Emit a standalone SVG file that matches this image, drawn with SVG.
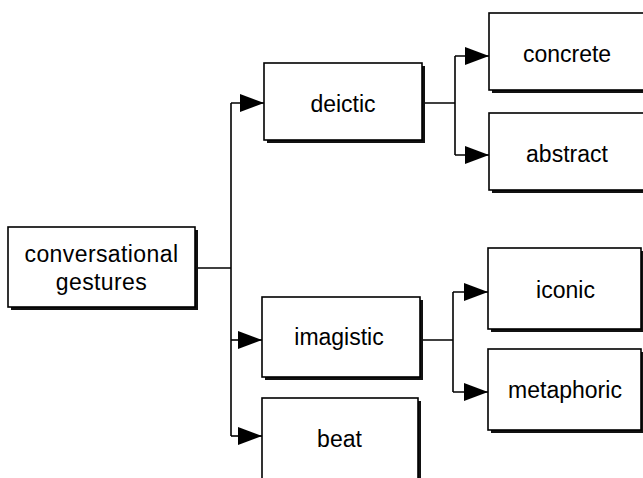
<svg xmlns="http://www.w3.org/2000/svg" width="643" height="478" viewBox="0 0 643 478">
  <style>
    .shadow { fill: #111; }
    .box { fill: #fff; stroke: #000; stroke-width: 1.6; }
    .lbl { font-family: "Liberation Sans", Arial, sans-serif; font-size: 23px; fill: #000; text-anchor: middle; }
    .wire { fill: none; stroke: #000; stroke-width: 1.6; }
  </style>
  <defs>
    <marker id="arrow" viewBox="0 0 24 18" refX="24" refY="9" markerWidth="24" markerHeight="18" markerUnits="userSpaceOnUse" orient="auto">
      <path d="M0,0 L24,9 L0,18 Z" fill="#000"/>
    </marker>
  </defs>
  <rect width="643" height="478" fill="#fff"/>

  <g id="connectors">
    <path class="wire" d="M195,268 H231"/>
    <path class="wire" d="M231,103 V436"/>
    <path class="wire" d="M231,103 H264" marker-end="url(#arrow)"/>
    <path class="wire" d="M231,340 H262" marker-end="url(#arrow)"/>
    <path class="wire" d="M231,436 H262" marker-end="url(#arrow)"/>
    <path class="wire" d="M422,103 H455"/>
    <path class="wire" d="M455,56 V155"/>
    <path class="wire" d="M455,56 H489" marker-end="url(#arrow)"/>
    <path class="wire" d="M455,155 H489" marker-end="url(#arrow)"/>
    <path class="wire" d="M420,340 H453"/>
    <path class="wire" d="M453,292 V392"/>
    <path class="wire" d="M453,292 H488" marker-end="url(#arrow)"/>
    <path class="wire" d="M453,392 H488" marker-end="url(#arrow)"/>
  </g>

  <g id="conversational-gestures">
    <rect class="shadow" x="11" y="230" width="187" height="80"/>
    <rect class="box" x="8" y="227" width="187" height="80"/>
    <text class="lbl" x="101.5" y="262" letter-spacing="0.4">conversational</text>
    <text class="lbl" x="101.5" y="290" letter-spacing="0.4">gestures</text>
  </g>

  <g id="deictic">
    <rect class="shadow" x="267" y="66" width="158" height="77"/>
    <rect class="box" x="264" y="63" width="158" height="77"/>
    <text class="lbl" x="343" y="112">deictic</text>
  </g>

  <g id="concrete">
    <rect class="shadow" x="492" y="16" width="170" height="77"/>
    <rect class="box" x="489" y="13" width="170" height="77"/>
    <text class="lbl" x="567" y="62">concrete</text>
  </g>

  <g id="abstract">
    <rect class="shadow" x="492" y="116" width="170" height="77"/>
    <rect class="box" x="489" y="113" width="170" height="77"/>
    <text class="lbl" x="567" y="162">abstract</text>
  </g>

  <g id="imagistic">
    <rect class="shadow" x="265" y="300" width="158" height="80"/>
    <rect class="box" x="262" y="297" width="158" height="80"/>
    <text class="lbl" x="339" y="345">imagistic</text>
  </g>

  <g id="beat">
    <rect class="shadow" x="265" y="401" width="156" height="85"/>
    <rect class="box" x="262" y="398" width="156" height="85"/>
    <text class="lbl" x="339.5" y="447">beat</text>
  </g>

  <g id="iconic">
    <rect class="shadow" x="491" y="251" width="153" height="81"/>
    <rect class="box" x="488" y="248" width="153" height="81"/>
    <text class="lbl" x="565.5" y="298">iconic</text>
  </g>

  <g id="metaphoric">
    <rect class="shadow" x="491" y="352" width="153" height="81"/>
    <rect class="box" x="488" y="349" width="153" height="81"/>
    <text class="lbl" x="565" y="398">metaphoric</text>
  </g>
</svg>
